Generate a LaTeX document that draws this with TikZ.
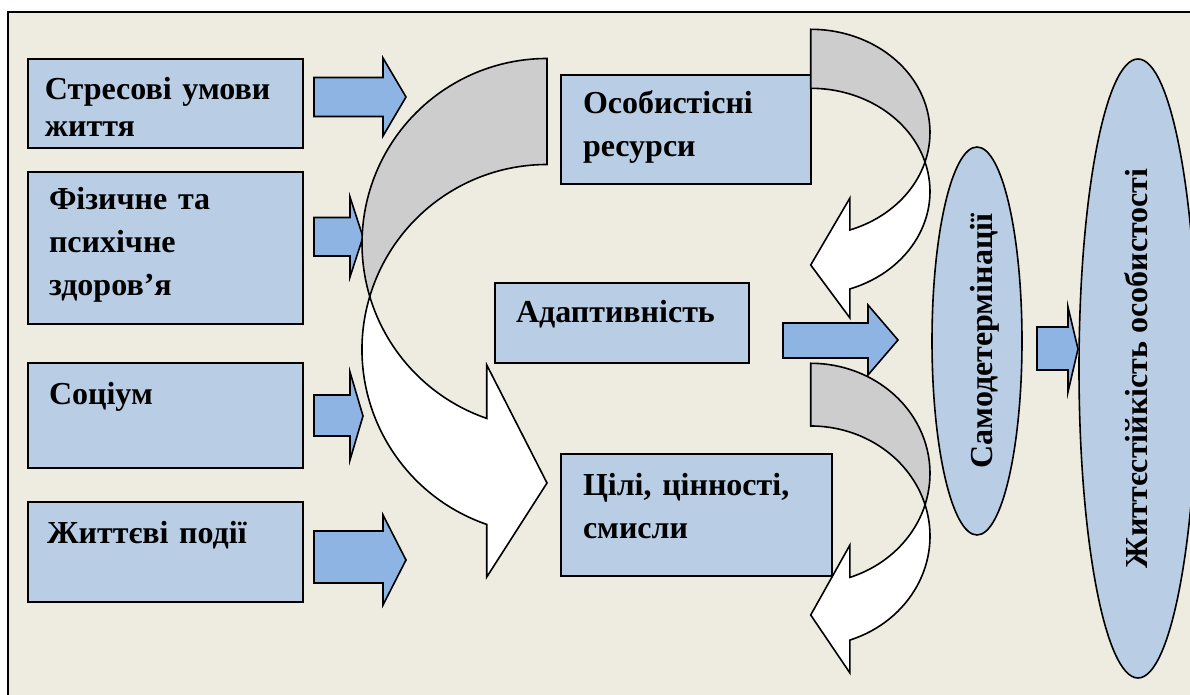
\documentclass[tikz,border=0pt]{standalone}
\usepackage{fontspec}
\setmainfont{Liberation Serif}
\usepackage{tikz}
\usetikzlibrary{shapes.geometric}
\definecolor{paper}{HTML}{EEECE1}
\definecolor{boxblue}{HTML}{B9CDE5}
\definecolor{arrowblue}{HTML}{8EB4E3}
\definecolor{backgray}{HTML}{CDCDCD}
\tikzstyle{factor} = [rectangle, draw=black, fill=boxblue, line width=0.8pt, anchor=north west, outer sep=0pt, inner ysep=0pt, inner xsep=10.5pt, align=left, font=\bfseries\fontsize{16pt}{21.5pt}\selectfont]
\tikzstyle{oval} = [ellipse, draw=black, fill=boxblue, line width=0.8pt, inner sep=0pt, rotate=90, font=\bfseries\fontsize{16pt}{19pt}\selectfont]
\tikzstyle{fatarrow} = [draw=black, fill=arrowblue, line width=0.8pt]
\tikzstyle{backside} = [draw=black, fill=backgray, line width=0.8pt]
\tikzstyle{frontside} = [draw=black, fill=white, line width=0.8pt]

\begin{document}
\begin{tikzpicture}[x=0.5pt, y=-0.5pt]
    \useasboundingbox (0,0) rectangle (1190,695);
    \clip (0,0) rectangle (1190,695);
    \fill[white] (0,0) rectangle (1190,695);
    \draw[line width=1pt, fill=paper] (8,12) rectangle (1210,720);

    % left column
    \node (stressLife) [factor, inner xsep=8.5pt, text width=120.5pt, text height=20.5pt, text depth=24pt, font=\bfseries\fontsize{16pt}{18.5pt}\selectfont] at (28,59) {Стресові умови\\життя};
    \node (health) [factor, text width=116.5pt, text height=19pt, text depth=57pt] at (28,172) {Фізичне та\\психічне\\здоров’я};
    \node (socium) [factor, text width=116.5pt, text height=21pt, text depth=31.5pt] at (28,363) {Соціум};
    \node (lifeEvents) [factor, inner xsep=9.5pt, text width=118.5pt, text height=21pt, text depth=29pt] at (28,502) {Життєві події};

    % middle column
    \node (resources) [factor, inner xsep=11pt, text width=103pt, text height=19.5pt, text depth=35pt] at (561,75) {Особистісні\\ресурси};
    \node (adaptivity) [factor, text width=106pt, text height=20pt, text depth=20pt] at (495,283) {Адаптивність};
    \node (goals) [factor, inner xsep=11pt, text width=113.5pt, text height=20.5pt, text depth=40.5pt] at (561,454) {Цілі, цінності,\\смисли};

    % block arrows
    \draw[fatarrow] (314,77.5) -- (383,77.5) -- (383,58) -- (406,97) -- (383,136) -- (383,116.5) -- (314,116.5) -- cycle;
    \draw[fatarrow] (314,217.5) -- (350,217.5) -- (350,197) -- (363,237) -- (350,277) -- (350,256) -- (314,256) -- cycle;
    \draw[fatarrow] (314,395) -- (350,395) -- (350,372) -- (363,416) -- (350,460) -- (350,436) -- (314,436) -- cycle;
    \draw[fatarrow] (314,531) -- (383,531) -- (383,515) -- (406,560) -- (383,605) -- (383,583) -- (314,583) -- cycle;
    \draw[fatarrow] (783,323) -- (868,323) -- (868,305) -- (898,340) -- (868,375) -- (868,358) -- (783,358) -- cycle;

    % big bend into the goals
    \draw[backside] (547,58.5) arc[start angle=270, end angle=163.35, radius=185]
        arc[start angle=196.65, end angle=270, radius=185] -- cycle;
    \draw[frontside] (369.75,296.5) arc[start angle=196.65, end angle=109, radius=185]
        -- (486.77,577) -- (547,483) -- (486.77,365) -- (486.77,418.42)
        arc[start angle=109, end angle=163.35, radius=185] -- cycle;

    % bends on the right
    \draw[backside] (810.7,29.3) arc[start angle=-90, end angle=16.61, x radius=119.3, y radius=103.2]
        arc[start angle=-16.61, end angle=-90, x radius=119.3, y radius=103.2] -- cycle;
    \draw[frontside] (925,162) arc[start angle=-16.61, end angle=70.8, x radius=119.3, y radius=103.2]
        -- (849.94,318) -- (810.7,265) -- (849.94,198) -- (849.94,229.96)
        arc[start angle=70.8, end angle=16.61, x radius=119.3, y radius=103.2] -- cycle;
    \draw[backside] (810.7,363.3) arc[start angle=-90, end angle=16.54, x radius=119.3, y radius=110.1]
        arc[start angle=-16.54, end angle=-90, x radius=119.3, y radius=110.1] -- cycle;
    \draw[frontside] (925.06,504.75) arc[start angle=-16.54, end angle=70.8, x radius=119.3, y radius=110.1]
        -- (849.94,673) -- (810.7,615) -- (849.94,545) -- (849.94,577.38)
        arc[start angle=70.8, end angle=16.54, x radius=119.3, y radius=110.1] -- cycle;

    % ovals
    \node (selfDet) [oval, minimum width=194pt, minimum height=45pt, text height=15pt, text depth=0pt] at (977,341) {Самодетермінації};
    \node (hardiness) [oval, minimum width=309.5pt, minimum height=59pt, text height=11pt, text depth=2pt] at (1138,368.5) {Життєстійкість особистості};

    \draw[fatarrow] (1037,327) -- (1068,327) -- (1068,307) -- (1078,349) -- (1068,392) -- (1068,370) -- (1037,370) -- cycle;
\end{tikzpicture}
\end{document}
